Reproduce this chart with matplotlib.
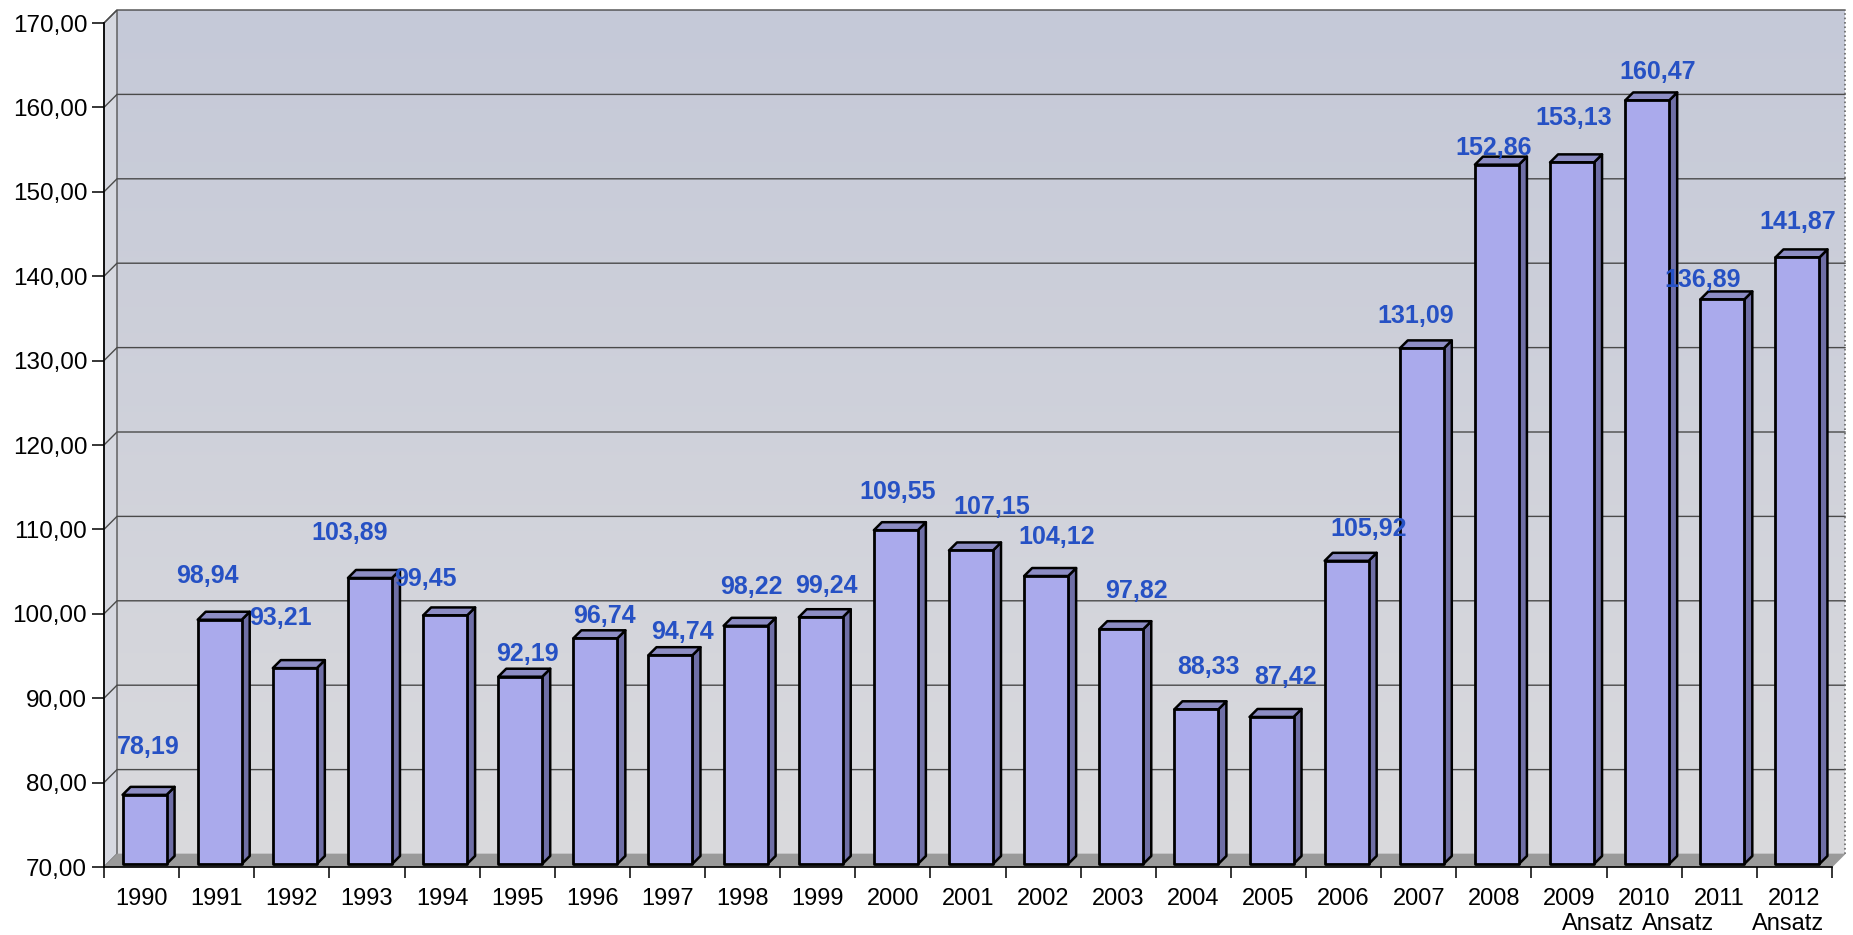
import numpy as np
import matplotlib
matplotlib.use("Agg")
import matplotlib.pyplot as plt
from matplotlib.patches import Polygon
from matplotlib.colors import LinearSegmentedColormap

plt.rcParams['font.family'] = ['Liberation Sans', 'DejaVu Sans']

years = ['1990', '1991', '1992', '1993', '1994', '1995', '1996', '1997',
         '1998', '1999', '2000', '2001', '2002', '2003', '2004', '2005',
         '2006', '2007', '2008', '2009', '2010', '2011', '2012']
values = [78.19, 98.94, 93.21, 103.89, 99.45, 92.19, 96.74, 94.74,
          98.22, 99.24, 109.55, 107.15, 104.12, 97.82, 88.33, 87.42,
          105.92, 131.09, 152.86, 153.13, 160.47, 136.89, 141.87]
ansatz_years = ['2009', '2010', '2012']

# hand placed label positions (pixels, relative to bar top / category centre)
label_dx = [7, -9, -11, -17, -17, 10, 12, 15, 9, 9, 5, 24, 14, 18, 15, 17,
            25, -3, 0, 5, 14, -17, 3]
label_dy = [51, 47, 53, 48, 39, 26, 25, 26, 42, 34, 41, 46, 42, 41, 45, 43,
            35, 35, 20, 47, 31, 22, 38]
ansatz_dx = {'2009': 29, '2010': 34, '2012': -6}

W, H = 1853, 935
fig = plt.figure(figsize=(W / 100, H / 100), dpi=100, facecolor='white')
ax = fig.add_axes([104 / W, (H - 867) / H, 1728 / W, 844 / H])
n = len(values)
ax.set_xlim(-0.5, n - 0.5)
ax.set_ylim(70, 170)
ax.patch.set_visible(False)

# pixel -> data scales for the fake 3d depth
sx = ax.bbox.width / n
sy = ax.bbox.height / 100.0
depth = 13
ddx, ddy = depth / sx, depth / sy
x0, x1 = -0.5, n - 0.5

# back wall with soft gradient
cmap = LinearSegmentedColormap.from_list('wall', ['#dadadd', '#c5c9d8'])
grad = np.linspace(0, 1, 256).reshape(-1, 1)
ax.imshow(grad, cmap=cmap, aspect='auto', origin='lower',
          extent=[x0 + ddx, x1 + ddx, 70 + ddy, 170 + ddy],
          zorder=0, clip_on=False)
ax.add_patch(Polygon([(x0, 70), (x0, 170), (x0 + ddx, 170 + ddy), (x0 + ddx, 70 + ddy)],
                     closed=True, facecolor='#d6d8e0', edgecolor='#555555',
                     lw=1, zorder=0.5, clip_on=False))
ax.add_patch(Polygon([(x0, 70), (x1, 70), (x1 + ddx, 70 + ddy), (x0 + ddx, 70 + ddy)],
                     closed=True, facecolor='#9a9a9a', edgecolor='#9a9a9a',
                     lw=0.5, zorder=1.5, clip_on=False))

# gridlines on the walls
for v in range(80, 171, 10):
    ax.plot([x0, x0 + ddx, x1 + ddx], [v, v + ddy, v + ddy], color='#4a4a4a',
            lw=1.0, zorder=1, clip_on=False)
ax.plot([x1 + ddx, x1 + ddx], [70 + ddy, 170 + ddy], color='#666666', lw=1.2,
        ls=':', zorder=1, clip_on=False)

# bars
bw = 44 / sx
f_dx, f_dy = 3 / sx, 3 / sy
b_dx, b_dy = 11 / sx, 11 / sy
for i, v in enumerate(values):
    l = i - bw / 2 + f_dx
    r = i + bw / 2 + f_dx
    base = 70 + f_dy
    top = v + f_dy
    ex, ey = b_dx - f_dx, b_dy - f_dy
    ax.add_patch(Polygon([(r, base), (r + ex, base + ey), (r + ex, top + ey), (r, top)],
                         closed=True, facecolor='#6f6fa6', edgecolor='black',
                         lw=1.8, zorder=3, clip_on=False, joinstyle='round'))
    ax.add_patch(Polygon([(l, top), (r, top), (r + ex, top + ey), (l + ex, top + ey)],
                         closed=True, facecolor='#8d8dc4', edgecolor='black',
                         lw=1.8, zorder=3, clip_on=False, joinstyle='round'))
    ax.add_patch(Polygon([(l, base), (r, base), (r, top), (l, top)],
                         closed=True, facecolor='#aaaaec', edgecolor='black',
                         lw=2.0, zorder=4, clip_on=False, joinstyle='round'))
    ax.annotate(f"{v:.2f}".replace('.', ','), xy=(i, v), xytext=(label_dx[i], label_dy[i]),
                textcoords='offset pixels', ha='center', va='center',
                fontsize=18, fontweight='bold', color='#2651c4', zorder=6)

# axes and ticks
for s in ['top', 'right']:
    ax.spines[s].set_visible(False)
ax.spines['left'].set_linewidth(1.2)
ax.spines['bottom'].set_linewidth(1.2)
ax.spines['left'].set_zorder(5)
ax.spines['bottom'].set_zorder(5)

yt = np.arange(70, 171, 10)
ax.set_yticks(yt)
ax.set_yticklabels([f"{t:.2f}".replace('.', ',') for t in yt])
ax.tick_params(axis='y', direction='out', length=8.6, width=1.1, pad=3.5, labelsize=17.5)

ax.set_xticks(np.arange(n))
ax.set_xticklabels(years)
ax.set_xticks(np.arange(n + 1) - 0.5, minor=True)
ax.tick_params(axis='x', which='major', length=0, pad=15, labelsize=17)
ax.tick_params(axis='x', which='minor', length=8, width=1.1, direction='out')

for yr in ansatz_years:
    i = years.index(yr)
    ax.annotate('Ansatz', xy=(i, 0), xycoords=('data', 'axes fraction'),
                xytext=(ansatz_dx[yr], -57), textcoords='offset pixels',
                ha='center', va='center', fontsize=17, annotation_clip=False)

fig.savefig('out.png', dpi=100, facecolor='white')
